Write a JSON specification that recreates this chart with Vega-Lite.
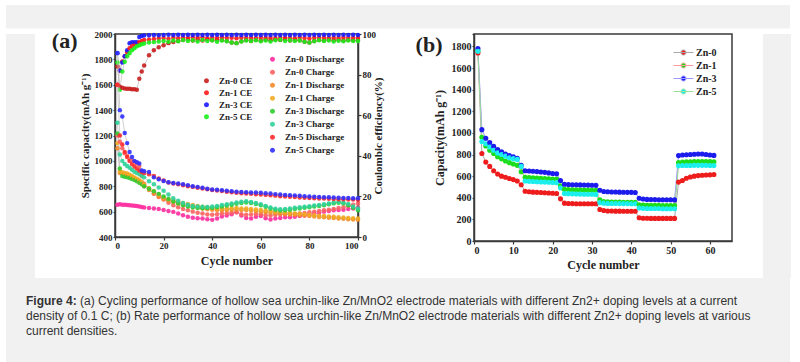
{
  "$schema": "https://vega.github.io/schema/vega-lite/v6.json",
  "background": "white",
  "padding": {"left": 6, "top": 5, "right": 10, "bottom": 5},
  "spacing": 0,
  "resolve": {"scale": {"fill": "independent", "stroke": "independent"}},
  "config": {
    "font": "Liberation Serif",
    "view": {"stroke": "#3a3a3a", "strokeWidth": 1.5},
    "concat": {"spacing": 0},
    "axis": {"domainColor": "#3a3a3a", "domainWidth": 1.5, "tickColor": "#3a3a3a", "tickWidth": 1.2, "grid": false, "labelFont": "Liberation Serif", "labelFontWeight": "bold", "labelColor": "#222222", "titleFont": "Liberation Serif", "titleFontWeight": "bold", "titleColor": "#222222", "format": "d"},
    "legend": {"title": null, "symbolType": "M-1,0L1,0M-0.25,0A0.25,0.25,0,1,1,0.25,0A0.25,0.25,0,1,1,-0.25,0Z", "symbolSize": 400, "symbolStrokeWidth": 1, "labelFont": "Liberation Serif", "labelFontWeight": "bold", "labelFontSize": 9, "labelColor": "#222222", "labelOffset": 2, "padding": 0, "rowPadding": 0}
  },
  "datasets": {
    "a": [
      {"cy":1,"d0":655,"ch0":1200,"d1":1100,"ch1":1140,"d3":1216,"ch3":1300,"d5":1600,"ch5":1850,"e0":84,"e1":75,"e3":90.5,"e5":86},
      {"cy":2,"d0":658,"ch0":1150,"d1":905,"ch1":920,"d3":940,"ch3":1050,"d5":1200,"ch5":1400,"e0":74,"e1":82,"e3":82,"e5":72.5},
      {"cy":3,"d0":655,"ch0":1100,"d1":900,"ch1":910,"d3":880,"ch3":1000,"d5":1130,"ch5":1350,"e0":73.5,"e1":86.5,"e3":86,"e5":81.5},
      {"cy":4,"d0":654,"ch0":1060,"d1":895,"ch1":905,"d3":875,"ch3":975,"d5":1070,"ch5":1220,"e0":73.2,"e1":89,"e3":89,"e5":86.3},
      {"cy":5,"d0":652,"ch0":1040,"d1":890,"ch1":900,"d3":870,"ch3":960,"d5":1030,"ch5":1140,"e0":73,"e1":91,"e3":92,"e5":89},
      {"cy":6,"d0":650,"ch0":1010,"d1":880,"ch1":890,"d3":865,"ch3":945,"d5":1000,"ch5":1070,"e0":73,"e1":93,"e3":95.5,"e5":90.5},
      {"cy":7,"d0":648,"ch0":1000,"d1":870,"ch1":880,"d3":858,"ch3":930,"d5":975,"ch5":1030,"e0":72.8,"e1":94,"e3":96,"e5":92},
      {"cy":8,"d0":646,"ch0":990,"d1":860,"ch1":870,"d3":850,"ch3":915,"d5":955,"ch5":1000,"e0":72.8,"e1":95,"e3":96,"e5":93},
      {"cy":9,"d0":644,"ch0":980,"d1":850,"ch1":860,"d3":840,"ch3":905,"d5":940,"ch5":990,"e0":72.5,"e1":95.5,"e3":96,"e5":94},
      {"cy":10,"d0":640,"ch0":960,"d1":835,"ch1":848,"d3":828,"ch3":895,"d5":925,"ch5":980,"e0":78,"e1":96,"e3":98.5,"e5":94.5},
      {"cy":11,"d0":636,"ch0":880,"d1":820,"ch1":835,"d3":815,"ch3":885,"d5":912,"ch5":925,"e0":81.5,"e1":96.5,"e3":99,"e5":95},
      {"cy":12,"d0":632,"ch0":820,"d1":800,"ch1":815,"d3":800,"ch3":870,"d5":905,"ch5":918,"e0":84.5,"e1":97,"e3":99.3,"e5":95.3},
      {"cy":14,"d0":628,"ch0":780,"d1":770,"ch1":785,"d3":780,"ch3":840,"d5":895,"ch5":912,"e0":89.5,"e1":97.3,"e3":99.4,"e5":95.8},
      {"cy":16,"d0":624,"ch0":740,"d1":745,"ch1":760,"d3":760,"ch3":815,"d5":880,"ch5":870,"e0":92,"e1":97.5,"e3":99.5,"e5":96},
      {"cy":18,"d0":620,"ch0":715,"d1":720,"ch1":735,"d3":740,"ch3":790,"d5":862,"ch5":855,"e0":93.5,"e1":97.8,"e3":99.4,"e5":96.3},
      {"cy":20,"d0":612,"ch0":695,"d1":700,"ch1":712,"d3":720,"ch3":765,"d5":845,"ch5":841,"e0":94.5,"e1":98,"e3":99.5,"e5":96.5},
      {"cy":22,"d0":605,"ch0":670,"d1":688,"ch1":698,"d3":700,"ch3":735,"d5":830,"ch5":832,"e0":95.5,"e1":97.6,"e3":99.6,"e5":96.2},
      {"cy":24,"d0":598,"ch0":650,"d1":675,"ch1":686,"d3":680,"ch3":705,"d5":822,"ch5":826,"e0":96,"e1":98.2,"e3":99.5,"e5":96.8},
      {"cy":26,"d0":585,"ch0":635,"d1":665,"ch1":676,"d3":665,"ch3":685,"d5":815,"ch5":822,"e0":96.5,"e1":97.9,"e3":99.6,"e5":96.4},
      {"cy":28,"d0":572,"ch0":620,"d1":655,"ch1":668,"d3":650,"ch3":668,"d5":808,"ch5":815,"e0":97,"e1":98.3,"e3":99.5,"e5":97},
      {"cy":30,"d0":560,"ch0":610,"d1":648,"ch1":660,"d3":640,"ch3":655,"d5":800,"ch5":808,"e0":97.5,"e1":98,"e3":99.6,"e5":96.6},
      {"cy":32,"d0":552,"ch0":600,"d1":640,"ch1":652,"d3":632,"ch3":645,"d5":795,"ch5":800,"e0":96.8,"e1":98.4,"e3":99.5,"e5":96.9},
      {"cy":34,"d0":548,"ch0":592,"d1":632,"ch1":645,"d3":628,"ch3":640,"d5":788,"ch5":795,"e0":97.3,"e1":98.1,"e3":99.6,"e5":96.3},
      {"cy":36,"d0":545,"ch0":585,"d1":625,"ch1":638,"d3":626,"ch3":638,"d5":782,"ch5":788,"e0":96.8,"e1":98.3,"e3":99.5,"e5":97.1},
      {"cy":38,"d0":540,"ch0":578,"d1":618,"ch1":632,"d3":628,"ch3":636,"d5":776,"ch5":780,"e0":97.4,"e1":97.9,"e3":99.6,"e5":96.5},
      {"cy":40,"d0":535,"ch0":575,"d1":614,"ch1":628,"d3":630,"ch3":640,"d5":770,"ch5":775,"e0":96.9,"e1":98.2,"e3":99.5,"e5":96.9},
      {"cy":42,"d0":545,"ch0":580,"d1":612,"ch1":625,"d3":635,"ch3":645,"d5":766,"ch5":772,"e0":97.3,"e1":98,"e3":99.6,"e5":96.2},
      {"cy":44,"d0":562,"ch0":585,"d1":610,"ch1":624,"d3":640,"ch3":652,"d5":762,"ch5":768,"e0":97,"e1":98.4,"e3":99.5,"e5":96.8},
      {"cy":46,"d0":570,"ch0":588,"d1":612,"ch1":625,"d3":648,"ch3":658,"d5":757,"ch5":765,"e0":96.5,"e1":98,"e3":99.6,"e5":96.4},
      {"cy":48,"d0":580,"ch0":592,"d1":615,"ch1":626,"d3":655,"ch3":665,"d5":752,"ch5":760,"e0":95.8,"e1":98.2,"e3":99.5,"e5":95.8},
      {"cy":50,"d0":595,"ch0":595,"d1":615,"ch1":628,"d3":662,"ch3":672,"d5":748,"ch5":757,"e0":95.5,"e1":97.9,"e3":99.6,"e5":95.5},
      {"cy":52,"d0":570,"ch0":580,"d1":612,"ch1":625,"d3":668,"ch3":678,"d5":745,"ch5":755,"e0":96.4,"e1":98.3,"e3":99.5,"e5":96.3},
      {"cy":54,"d0":550,"ch0":575,"d1":612,"ch1":624,"d3":672,"ch3":682,"d5":742,"ch5":752,"e0":97,"e1":98,"e3":99.6,"e5":96.8},
      {"cy":56,"d0":545,"ch0":578,"d1":608,"ch1":620,"d3":668,"ch3":676,"d5":740,"ch5":750,"e0":96.6,"e1":98.2,"e3":99.5,"e5":96.5},
      {"cy":58,"d0":560,"ch0":582,"d1":604,"ch1":616,"d3":660,"ch3":668,"d5":737,"ch5":750,"e0":97.2,"e1":97.9,"e3":99.6,"e5":96.9},
      {"cy":60,"d0":565,"ch0":580,"d1":600,"ch1":612,"d3":650,"ch3":658,"d5":735,"ch5":748,"e0":96.7,"e1":98.3,"e3":99.5,"e5":96.4},
      {"cy":62,"d0":548,"ch0":572,"d1":596,"ch1":608,"d3":638,"ch3":645,"d5":732,"ch5":745,"e0":97.3,"e1":98,"e3":99.6,"e5":96.8},
      {"cy":64,"d0":538,"ch0":570,"d1":592,"ch1":604,"d3":625,"ch3":632,"d5":729,"ch5":742,"e0":96.9,"e1":98.2,"e3":99.5,"e5":96.3},
      {"cy":66,"d0":545,"ch0":575,"d1":588,"ch1":600,"d3":615,"ch3":622,"d5":726,"ch5":738,"e0":97.4,"e1":97.9,"e3":99.6,"e5":96.9},
      {"cy":68,"d0":550,"ch0":578,"d1":585,"ch1":597,"d3":608,"ch3":618,"d5":722,"ch5":735,"e0":97,"e1":98.3,"e3":99.5,"e5":97.2},
      {"cy":70,"d0":555,"ch0":580,"d1":582,"ch1":594,"d3":610,"ch3":620,"d5":720,"ch5":732,"e0":97.5,"e1":98,"e3":99.6,"e5":96.6},
      {"cy":72,"d0":556,"ch0":582,"d1":578,"ch1":590,"d3":615,"ch3":625,"d5":717,"ch5":730,"e0":96.8,"e1":98.2,"e3":99.5,"e5":96.9},
      {"cy":74,"d0":560,"ch0":582,"d1":575,"ch1":586,"d3":620,"ch3":630,"d5":715,"ch5":728,"e0":97.2,"e1":97.9,"e3":99.6,"e5":96.5},
      {"cy":76,"d0":565,"ch0":585,"d1":572,"ch1":583,"d3":625,"ch3":634,"d5":712,"ch5":725,"e0":96.9,"e1":98.3,"e3":99.5,"e5":96.8},
      {"cy":78,"d0":570,"ch0":590,"d1":570,"ch1":580,"d3":630,"ch3":638,"d5":710,"ch5":722,"e0":96.2,"e1":98,"e3":99.6,"e5":96.2},
      {"cy":80,"d0":578,"ch0":595,"d1":566,"ch1":576,"d3":635,"ch3":642,"d5":708,"ch5":720,"e0":95.8,"e1":97.8,"e3":99.5,"e5":95.8},
      {"cy":82,"d0":585,"ch0":600,"d1":562,"ch1":572,"d3":640,"ch3":648,"d5":706,"ch5":718,"e0":96.6,"e1":98.2,"e3":99.6,"e5":96.4},
      {"cy":84,"d0":590,"ch0":605,"d1":558,"ch1":568,"d3":645,"ch3":652,"d5":704,"ch5":716,"e0":97.1,"e1":98,"e3":99.5,"e5":96.9},
      {"cy":86,"d0":600,"ch0":610,"d1":555,"ch1":565,"d3":650,"ch3":658,"d5":703,"ch5":714,"e0":96.8,"e1":98.3,"e3":99.6,"e5":96.5},
      {"cy":88,"d0":605,"ch0":615,"d1":552,"ch1":562,"d3":658,"ch3":665,"d5":701,"ch5":713,"e0":97.3,"e1":97.9,"e3":99.5,"e5":96.8},
      {"cy":90,"d0":610,"ch0":620,"d1":550,"ch1":560,"d3":665,"ch3":672,"d5":700,"ch5":712,"e0":96.9,"e1":98.2,"e3":99.6,"e5":96.3},
      {"cy":92,"d0":612,"ch0":628,"d1":546,"ch1":556,"d3":670,"ch3":678,"d5":698,"ch5":710,"e0":97.2,"e1":98,"e3":99.5,"e5":96.7},
      {"cy":94,"d0":615,"ch0":635,"d1":543,"ch1":553,"d3":665,"ch3":672,"d5":697,"ch5":708,"e0":96.8,"e1":98.3,"e3":99.6,"e5":96.4},
      {"cy":96,"d0":620,"ch0":645,"d1":540,"ch1":550,"d3":650,"ch3":660,"d5":696,"ch5":707,"e0":97.1,"e1":98,"e3":99.5,"e5":96.8},
      {"cy":98,"d0":625,"ch0":655,"d1":538,"ch1":548,"d3":630,"ch3":640,"d5":695,"ch5":706,"e0":96.9,"e1":98.2,"e3":99.6,"e5":96.5},
      {"cy":100,"d0":630,"ch0":665,"d1":536,"ch1":546,"d3":610,"ch3":625,"d5":694,"ch5":705,"e0":97,"e1":98,"e3":99.5,"e5":96.6}
    ],
    "b": [
      {"cy":1,"z0":1740,"z1":1760,"z3":1780,"z5":1755},
      {"cy":2,"z0":810,"z1":960,"z3":1030,"z5":920},
      {"cy":3,"z0":730,"z1":880,"z3":950,"z5":900},
      {"cy":4,"z0":690,"z1":840,"z3":910,"z5":870},
      {"cy":5,"z0":650,"z1":810,"z3":875,"z5":840},
      {"cy":6,"z0":620,"z1":780,"z3":845,"z5":815},
      {"cy":7,"z0":600,"z1":760,"z3":825,"z5":800},
      {"cy":8,"z0":590,"z1":740,"z3":805,"z5":785},
      {"cy":9,"z0":578,"z1":725,"z3":790,"z5":770},
      {"cy":10,"z0":568,"z1":712,"z3":778,"z5":762},
      {"cy":11,"z0":555,"z1":700,"z3":765,"z5":755},
      {"cy":12,"z0":520,"z1":640,"z3":700,"z5":690},
      {"cy":13,"z0":460,"z1":590,"z3":650,"z5":555},
      {"cy":14,"z0":455,"z1":588,"z3":648,"z5":552},
      {"cy":15,"z0":452,"z1":585,"z3":645,"z5":550},
      {"cy":16,"z0":450,"z1":582,"z3":642,"z5":548},
      {"cy":17,"z0":448,"z1":580,"z3":638,"z5":546},
      {"cy":18,"z0":446,"z1":578,"z3":635,"z5":545},
      {"cy":19,"z0":444,"z1":575,"z3":630,"z5":543},
      {"cy":20,"z0":442,"z1":573,"z3":625,"z5":541},
      {"cy":21,"z0":440,"z1":572,"z3":622,"z5":540},
      {"cy":22,"z0":390,"z1":510,"z3":560,"z5":490},
      {"cy":23,"z0":350,"z1":478,"z3":525,"z5":440},
      {"cy":24,"z0":347,"z1":476,"z3":522,"z5":438},
      {"cy":25,"z0":346,"z1":474,"z3":520,"z5":436},
      {"cy":26,"z0":345,"z1":473,"z3":520,"z5":435},
      {"cy":27,"z0":345,"z1":472,"z3":519,"z5":434},
      {"cy":28,"z0":345,"z1":471,"z3":518,"z5":433},
      {"cy":29,"z0":345,"z1":471,"z3":517,"z5":432},
      {"cy":30,"z0":344,"z1":470,"z3":516,"z5":432},
      {"cy":31,"z0":344,"z1":470,"z3":515,"z5":431},
      {"cy":32,"z0":292,"z1":380,"z3":470,"z5":355},
      {"cy":33,"z0":282,"z1":365,"z3":458,"z5":350},
      {"cy":34,"z0":278,"z1":362,"z3":455,"z5":348},
      {"cy":35,"z0":277,"z1":361,"z3":454,"z5":347},
      {"cy":36,"z0":276,"z1":360,"z3":453,"z5":347},
      {"cy":37,"z0":276,"z1":360,"z3":452,"z5":346},
      {"cy":38,"z0":275,"z1":359,"z3":451,"z5":346},
      {"cy":39,"z0":275,"z1":359,"z3":450,"z5":346},
      {"cy":40,"z0":275,"z1":358,"z3":450,"z5":345},
      {"cy":41,"z0":275,"z1":358,"z3":449,"z5":345},
      {"cy":42,"z0":215,"z1":335,"z3":395,"z5":305},
      {"cy":43,"z0":210,"z1":332,"z3":388,"z5":302},
      {"cy":44,"z0":210,"z1":331,"z3":385,"z5":301},
      {"cy":45,"z0":209,"z1":330,"z3":384,"z5":300},
      {"cy":46,"z0":209,"z1":330,"z3":383,"z5":300},
      {"cy":47,"z0":209,"z1":330,"z3":382,"z5":300},
      {"cy":48,"z0":209,"z1":329,"z3":382,"z5":299},
      {"cy":49,"z0":209,"z1":329,"z3":381,"z5":299},
      {"cy":50,"z0":209,"z1":329,"z3":381,"z5":299},
      {"cy":51,"z0":209,"z1":329,"z3":380,"z5":299},
      {"cy":52,"z0":545,"z1":725,"z3":790,"z5":696},
      {"cy":53,"z0":560,"z1":730,"z3":795,"z5":698},
      {"cy":54,"z0":580,"z1":732,"z3":798,"z5":699},
      {"cy":55,"z0":592,"z1":733,"z3":800,"z5":699},
      {"cy":56,"z0":600,"z1":734,"z3":802,"z5":700},
      {"cy":57,"z0":605,"z1":735,"z3":805,"z5":700},
      {"cy":58,"z0":608,"z1":735,"z3":805,"z5":700},
      {"cy":59,"z0":610,"z1":735,"z3":800,"z5":700},
      {"cy":60,"z0":612,"z1":734,"z3":795,"z5":699},
      {"cy":61,"z0":615,"z1":733,"z3":792,"z5":699}
    ],
    "cap": [
      {"line": "1", "part": "b", "t": "Figure 4:"},
      {"line": "1", "part": "a1", "t": "(a) Cycling performance of hollow sea urchin-like Zn/MnO2 electrode materials with different Zn2+ doping levels at a current"},
      {"line": "2", "part": "n", "t": "density of 0.1 C; (b) Rate performance of hollow sea urchin-like Zn/MnO2 electrode materials with different Zn2+ doping levels at various"},
      {"line": "3", "part": "n", "t": "current densities."}
    ],
    "one": [{"u": 1}]
  },
  "vconcat": [
    {"width": 784, "height": 23.5, "data": {"name": "one"}, "view": {"fill": "#f1f1f1", "stroke": null}, "mark": {"type": "point", "opacity": 0}, "encoding": {}},
    {
      "spacing": 0,
      "resolve": {"scale": {"fill": "independent", "stroke": "independent"}},
      "hconcat": [
        {"width": 29, "height": 244, "data": {"name": "one"}, "view": {"fill": "#f1f1f1", "stroke": null}, "mark": {"type": "point", "opacity": 0}, "encoding": {}},
        {"width": 16, "height": 10, "data": {"name": "one"}, "view": {"stroke": null}, "mark": {"type": "point", "opacity": 0}, "encoding": {}},
        {
          "width": 243, "height": 203,
          "data": {"name": "a"},
          "title": {"text": "(a)", "orient": "left", "anchor": "end", "angle": 0, "align": "left", "baseline": "top", "offset": 1.5, "dy": 1, "font": "Liberation Serif", "fontSize": 22, "fontWeight": "bold", "color": "#222222"},
          "transform": [{"fold": ["e0","e1","e3","e5","d0","ch0","d1","ch1","d3","ch3","d5","ch5"], "as": ["k","v"]}],
          "layer": [
            {
              "transform": [{"filter": {"field": "k", "oneOf": ["e0","e1","e3","e5"]}}],
              "encoding": {
                "x": {"field": "cy", "type": "quantitative", "scale": {"domain": [0,100], "nice": false}, "axis": {"values": [0,20,40,60,80,100], "title": "Cycle number", "titleFontSize": 12, "labelFontSize": 9, "tickSize": 3, "labelPadding": 1, "titlePadding": 5}},
                "y": {"field": "v", "type": "quantitative", "scale": {"domain": [0,100], "nice": false}, "axis": {"orient": "right", "values": [0,20,40,60,80,100], "title": "Coulombic efficiency(%)", "titleAngle": 270, "titleFontSize": 11, "labelFontSize": 9, "tickSize": 3, "labelPadding": 1, "titlePadding": 8}}
              },
              "layer": [
                {"mark": {"type": "line", "strokeWidth": 0.8, "color": "#c4c4c4"}, "encoding": {"detail": {"field": "k"}}},
                {"mark": {"type": "point", "filled": true, "size": 20, "opacity": 0.9},
                 "encoding": {"fill": {"field": "k", "type": "nominal", "scale": {"domain": ["e0","e1","e3","e5"], "range": ["#c81e1e","#ff1a1a","#1a1aff","#1aee1a"]},
                   "legend": {"orient": "none", "legendX": 81, "legendY": 41, "clipHeight": 11.7, "labelExpr": "'Zn-' + slice(datum.label, 1) + ' CE'", "encode": {"symbols": {"update": {"stroke": {"value": "#a8a8a8"}, "strokeWidth": {"value": 1}}}}}}}}
              ]
            },
            {
              "transform": [{"filter": {"field": "k", "oneOf": ["d0","ch0","d1","ch1","d3","ch3","d5","ch5"]}}],
              "encoding": {
                "x": {"field": "cy", "type": "quantitative"},
                "y": {"field": "v", "type": "quantitative", "scale": {"domain": [400,2000], "nice": false}, "axis": {"orient": "left", "values": [400,600,800,1000,1200,1400,1600,1800,2000], "title": "Specific capacity(mAh g⁻¹)", "titleFontSize": 11, "labelFontSize": 9, "tickSize": 2, "labelPadding": 1, "titlePadding": 4}}
              },
              "layer": [
                {"mark": {"type": "line", "strokeWidth": 0.8, "color": "#c4c4c4"}, "encoding": {"detail": {"field": "k"}}},
                {"mark": {"type": "point", "filled": true, "size": 20, "opacity": 0.9},
                 "encoding": {"fill": {"field": "k", "type": "nominal", "scale": {"domain": ["d0","ch0","d1","ch1","d3","ch3","d5","ch5"], "range": ["#ff2ea0","#ff6262","#f58a2a","#f2aa22","#30cc30","#2ed39a","#ff2a2a","#3030ff"]},
                   "legend": {"orient": "none", "legendX": 147, "legendY": 19, "clipHeight": 12.6, "labelExpr": "slice(datum.label,0,1) == 'd' ? 'Zn-' + slice(datum.label, 1) + ' Discharge' : 'Zn-' + slice(datum.label, 2) + ' Charge'", "encode": {"symbols": {"update": {"stroke": {"value": "#a8a8a8"}, "strokeWidth": {"value": 1}}}}}}}}
              ]
            }
          ],
          "resolve": {"scale": {"y": "independent", "fill": "independent"}}
        },
        {"width": 28.5, "height": 10, "data": {"name": "one"}, "view": {"stroke": null}, "mark": {"type": "point", "opacity": 0}, "encoding": {}},
        {
          "width": 258, "height": 207,
          "data": {"name": "b"},
          "title": {"text": "(b)", "orient": "left", "anchor": "end", "angle": 0, "align": "left", "baseline": "top", "offset": -9.5, "dy": 2, "font": "Liberation Serif", "fontSize": 22, "fontWeight": "bold", "color": "#222222"},
          "transform": [{"fold": ["z0","z1","z3","z5"], "as": ["k","v"]}],
          "encoding": {
            "x": {"field": "cy", "type": "quantitative", "scale": {"domain": [0,65.6], "nice": false}, "axis": {"values": [0,10,20,30,40,50,60], "title": "Cycle number", "titleFontSize": 12, "labelFontSize": 10, "tickSize": 3, "labelPadding": 1, "titlePadding": 4}},
            "y": {"field": "v", "type": "quantitative", "scale": {"domain": [0,1915], "nice": false}, "axis": {"values": [0,200,400,600,800,1000,1200,1400,1600,1800,1915], "labelExpr": "datum.value > 1900 ? ' ' : datum.label", "labelFontSize": {"condition": {"test": "datum.value > 1900", "value": 7}, "value": 10}, "title": "Capacity(mAh g⁻¹)", "titleFontSize": 12, "tickSize": 2, "labelPadding": 1, "titlePadding": 5}}
          },
          "layer": [
            {"mark": {"type": "line", "strokeWidth": 1}, "encoding": {"stroke": {"field": "k", "type": "nominal", "scale": {"domain": ["z0","z1","z3","z5"], "range": ["#a8a8a8","#ff9a9a","#9a9aff","#9ae09a"]}, "legend": {"orient": "none", "legendX": 199, "legendY": 12, "clipHeight": 13, "labelFontSize": 10, "labelExpr": "replace(datum.label, 'z', 'Zn-')"}}}},
            {"mark": {"type": "point", "filled": true, "size": 26, "opacity": 1}, "encoding": {"fill": {"field": "k", "type": "nominal", "scale": {"domain": ["z0","z1","z3","z5"], "range": ["#ee1c1c","#1cdd1c","#1c1cee","#1ceeee"]}, "legend": {"orient": "none", "legendX": 199, "legendY": 12, "clipHeight": 13, "labelFontSize": 10, "labelExpr": "replace(datum.label, 'z', 'Zn-')"}}}}
          ]
        },
        {"width": 30, "height": 10, "data": {"name": "one"}, "view": {"stroke": null}, "mark": {"type": "point", "opacity": 0}, "encoding": {}},
        {"width": 28, "height": 244, "data": {"name": "one"}, "view": {"fill": "#f1f1f1", "stroke": null}, "mark": {"type": "point", "opacity": 0}, "encoding": {}}
      ]
    },
    {
      "width": 784, "height": 84,
      "data": {"name": "cap"},
      "view": {"fill": "#f1f1f1", "stroke": null},
      "encoding": {
        "y": {"field": "line", "type": "ordinal", "scale": {"type": "point", "domain": ["1","2","3"], "range": [23, 53], "padding": 0}, "axis": null},
        "x": {"datum": 0, "type": "quantitative", "scale": {"domain": [0, 1]}, "axis": null},
        "text": {"field": "t", "type": "nominal"}
      },
      "layer": [
        {"transform": [{"filter": "datum.part == 'b'"}], "mark": {"type": "text", "align": "left", "baseline": "middle", "dx": 20, "font": "Liberation Sans", "fontSize": 12, "fontWeight": "bold", "color": "#333333"}},
        {"transform": [{"filter": "datum.part == 'a1'"}], "mark": {"type": "text", "align": "left", "baseline": "middle", "dx": 74, "font": "Liberation Sans", "fontSize": 12, "fontWeight": "normal", "color": "#333333"}},
        {"transform": [{"filter": "datum.part == 'n'"}], "mark": {"type": "text", "align": "left", "baseline": "middle", "dx": 20, "font": "Liberation Sans", "fontSize": 12, "fontWeight": "normal", "color": "#333333"}}
      ]
    }
  ]
}
